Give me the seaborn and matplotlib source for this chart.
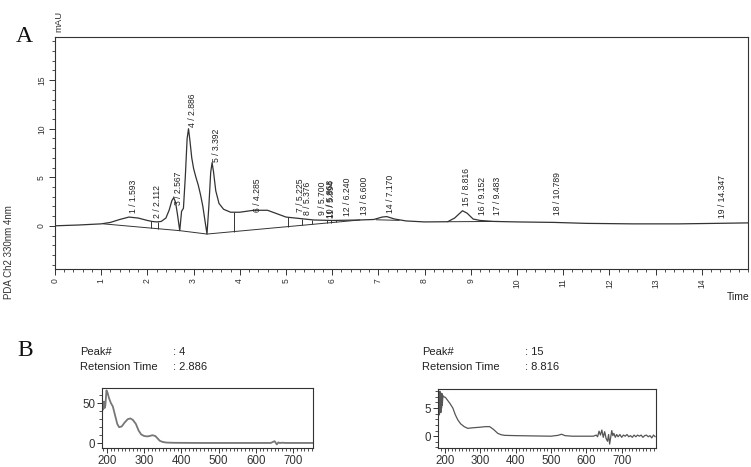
import numpy as np
import matplotlib
matplotlib.use("Agg")
import matplotlib.pyplot as plt
import seaborn as sns
from matplotlib.ticker import MultipleLocator

# ---- Chromatogram (PDA Ch2 330nm) ----
trace_time = [0.00, 0.50, 1.00, 1.20, 1.40, 1.60, 1.80, 2.00, 2.10, 2.20, 2.30, 2.40,
              2.47, 2.53, 2.57, 2.61, 2.65, 2.70, 2.74, 2.78, 2.82, 2.86, 2.89, 2.92,
              2.96, 3.00, 3.05, 3.10, 3.15, 3.20, 3.25, 3.29, 3.33, 3.37, 3.40, 3.43,
              3.48, 3.55, 3.65, 3.80, 4.00, 4.30, 4.60, 4.80, 5.00, 5.30, 5.60, 6.00,
              6.60, 6.90, 7.08, 7.18, 7.35, 7.60, 8.00, 8.50, 8.65, 8.82, 8.92, 9.05,
              9.20, 9.50, 10.00, 10.80, 11.50, 12.50, 13.50, 14.30, 15.00]
trace_mau = [0.00, 0.08, 0.20, 0.35, 0.65, 0.90, 0.80, 0.55, 0.45, 0.40, 0.45, 0.80,
             1.60, 2.60, 2.90, 2.40, 1.20, -0.50, 1.50, 1.80, 5.00, 9.00, 10.00, 8.80,
             7.00, 5.90, 5.00, 4.20, 3.20, 2.00, 0.40, -0.85, 2.00, 5.50, 6.50, 5.60,
             3.60, 2.30, 1.70, 1.40, 1.40, 1.60, 1.60, 1.25, 0.90, 0.75, 0.60, 0.55,
             0.60, 0.65, 0.90, 0.95, 0.70, 0.50, 0.40, 0.42, 0.80, 1.55, 1.30, 0.70,
             0.55, 0.45, 0.40, 0.35, 0.25, 0.20, 0.20, 0.25, 0.30]

# integration baselines
base_time = [1.05, 2.70, 3.29, 6.60]
base_mau = [0.20, -0.50, -0.85, 0.60]
base14_time = [6.95, 7.45]
base14_mau = [0.62, 0.56]
base15_time = [8.50, 9.60]
base15_mau = [0.42, 0.45]

# peak boundaries drawn as drop lines
drop_times = [2.08, 2.22, 3.88, 5.04, 5.35, 5.56, 5.88, 5.98, 6.08]

peak_ids = list(range(1, 20))
peak_times = [1.593, 2.112, 2.567, 2.886, 3.392, 4.285, 5.225, 5.376, 5.700, 5.868,
              5.894, 6.240, 6.600, 7.170, 8.816, 9.152, 9.483, 10.789, 14.347]
label_base = [1.3, 0.8, 2.1, 10.2, 6.6, 1.45, 1.45, 1.1, 1.1, 0.8,
              0.8, 1.0, 1.1, 1.3, 2.05, 1.1, 1.1, 1.1, 0.8]

# ---- UV spectra of two peaks ----
spec4_nm = [190, 192, 194, 196, 199, 202, 206, 211, 216, 222, 228, 233, 240, 248, 256,
            263, 270, 278, 285, 292, 300, 308, 315, 322, 330, 336, 342, 350, 360, 380,
            450, 550, 640, 645, 650, 653, 656, 660, 664, 670, 680, 700, 753]
spec4_mau = [42, 52, 44, 47, 66, 63, 56, 50, 46, 35, 24, 20, 21, 26, 30,
             31, 29, 24, 16, 11, 9, 8.5, 9, 10, 9, 6, 3, 1.5, 0.8, 0.5,
             0.3, 0.3, 0.3, 1.5, 2.5, 0.5, -1.5, 1.0, 0.2, 0.6, 0.3, 0.3, 0.3]

spec15_nm = [183, 184, 185, 186, 187, 188, 189, 190, 191, 192, 193, 195, 198, 202, 208,
             215, 223, 230, 237, 245, 255, 265, 280, 300, 315, 327, 338, 350, 360, 370,
             400, 450, 500, 520, 530, 540, 560, 600, 620, 628, 632, 636, 640, 644, 648,
             652, 656, 660, 663, 666, 669, 672, 675, 678, 682, 686, 690, 695, 700, 705,
             710, 715, 720, 725, 730, 735, 740, 745, 750, 755, 760, 765, 770, 775, 780,
             785, 790, 795]
spec15_mau = [4.0, 7.5, 3.8, 8.0, 4.5, 7.8, 4.2, 7.0, 5.0, 7.6, 5.5, 7.2, 7.0, 6.9, 6.4,
              5.8, 5.0, 3.8, 2.9, 2.2, 1.7, 1.4, 1.5, 1.6, 1.7, 1.7, 1.2, 0.5, 0.25, 0.15,
              0.1, 0.05, 0.0, 0.15, 0.35, 0.1, 0.0, 0.0, 0.0, 0.2, -0.1, 0.9, 0.2, 1.1, -0.2,
              0.8, -0.4, -0.9, 0.3, -1.4, -0.2, 1.0, 0.1, 0.5, -0.2, 0.3, -0.1, 0.3, -0.2, 0.2,
              0.0, 0.3, -0.1, 0.1, -0.2, 0.2, -0.1, 0.2, 0.0, 0.2, -0.2, 0.1, 0.2, -0.1, 0.1,
              -0.3, 0.2, -0.1]

sns.set_theme(style="ticks")
plt.rcParams["font.family"] = ["Liberation Sans", "DejaVu Sans"]
plt.rcParams["axes.edgecolor"] = "#333333"
plt.rcParams["axes.linewidth"] = 0.8

W, H = 751, 467
fig = plt.figure(figsize=(W / 100, H / 100), dpi=100)
ink = "#333333"


def frac_box(x0, y0, x1, y1):
    return [x0 / W, 1 - y1 / H, (x1 - x0) / W, (y1 - y0) / H]


# ---------- panel A ----------
ax = fig.add_axes(frac_box(55, 37, 748, 269))
sns.lineplot(x=trace_time, y=trace_mau, ax=ax, color=ink, lw=0.9,
             sort=False, estimator=None)
for bt, bm in [(base_time, base_mau), (base14_time, base14_mau), (base15_time, base15_mau)]:
    sns.lineplot(x=bt, y=bm, ax=ax, color=ink, lw=0.7, sort=False, estimator=None)
drop_low = np.interp(drop_times, base_time, base_mau)
drop_high = np.interp(drop_times, trace_time, trace_mau)
ax.vlines(drop_times, drop_low, drop_high, color=ink, lw=0.7)

# peak labels: "id / retention time", written upward from just right of each peak
for pid, pt, lb in zip(peak_ids, peak_times, label_base):
    ax.text(pt, lb, f"{pid} / {pt:.3f}", rotation=90, fontsize=6.2, color="#222222",
            ha="left", va="top", rotation_mode="anchor")

ax.set_xlim(0, 15)
ax.set_ylim(-4.45, 19.45)
ax.xaxis.set_major_locator(MultipleLocator(1))
ax.xaxis.set_minor_locator(MultipleLocator(0.2))
ax.yaxis.set_major_locator(MultipleLocator(5))
ax.yaxis.set_minor_locator(MultipleLocator(1))
ax.set_xticks(range(0, 15))
ax.tick_params(which="major", direction="out", length=4, width=0.7, colors=ink,
               labelsize=6.2, pad=2.5)
ax.tick_params(which="minor", direction="out", length=2.2, width=0.6, colors=ink)
for lab in ax.get_xticklabels():
    lab.set_rotation(90)
for lab in ax.get_yticklabels():
    lab.set_rotation(90)
    lab.set_va("center")
ax.set_xlabel("")
ax.set_ylabel("")
for s in ax.spines.values():
    s.set_visible(True)
    s.set_linewidth(0.8)

fig.text(59 / W, 1 - 21 / H, "mAU", rotation=90, fontsize=6.8, ha="center", va="center",
         color=ink)
fig.text(9 / W, 1 - 252 / H, "PDA Ch2 330nm 4nm", rotation=90, fontsize=7,
         ha="center", va="center", color=ink)
fig.text(738 / W, 1 - 297 / H, "Time", fontsize=7.5, ha="center", va="center",
         color="#222222")
fig.text(24 / W, 1 - 36 / H, "A", fontsize=17, family=["Liberation Serif", "DejaVu Serif"],
         ha="center", va="center", color="#111111")
fig.text(25 / W, 1 - 351 / H, "B", fontsize=17, family=["Liberation Serif", "DejaVu Serif"],
         ha="center", va="center", color="#111111")


# ---------- panel B ----------
def spectrum(box, nm, mau, xlim, ylim, yticks, yminor, color, lw):
    sax = fig.add_axes(frac_box(*box))
    sns.lineplot(x=nm, y=mau, ax=sax, color=color, lw=lw, sort=False, estimator=None)
    sax.set_xlim(*xlim)
    sax.set_ylim(*ylim)
    sax.set_xticks([200, 300, 400, 500, 600, 700])
    sax.xaxis.set_minor_locator(MultipleLocator(10))
    sax.set_yticks(yticks)
    sax.yaxis.set_minor_locator(MultipleLocator(yminor))
    sax.tick_params(which="major", direction="out", length=3.5, width=0.7, colors=ink,
                    labelsize=8.3, pad=1.5)
    sax.tick_params(which="minor", direction="out", length=2, width=0.6, colors=ink)
    sax.set_xlabel("")
    sax.set_ylabel("")
    for s in sax.spines.values():
        s.set_visible(True)
        s.set_linewidth(0.8)
    return sax


spectrum((102, 388, 313, 448), spec4_nm, spec4_mau, (187, 753), (-6, 69), [0, 50], 10,
         "#777777", 1.3)
spectrum((438, 389, 656, 448), spec15_nm, spec15_mau, (181, 797), (-2.1, 8.4), [0, 5], 1,
         "#555555", 0.9)

hdr = dict(fontsize=8, color="#222222", ha="left", va="center")
fig.text(80 / W, 1 - 352 / H, "Peak#", **hdr)
fig.text(80 / W, 1 - 367 / H, "Retension Time", **hdr)
fig.text(173 / W, 1 - 352 / H, ": 4", **hdr)
fig.text(173 / W, 1 - 367 / H, ": 2.886", **hdr)
fig.text(422 / W, 1 - 352 / H, "Peak#", **hdr)
fig.text(422 / W, 1 - 367 / H, "Retension Time", **hdr)
fig.text(525 / W, 1 - 352 / H, ": 15", **hdr)
fig.text(525 / W, 1 - 367 / H, ": 8.816", **hdr)

fig.savefig("out.png", dpi=100)
